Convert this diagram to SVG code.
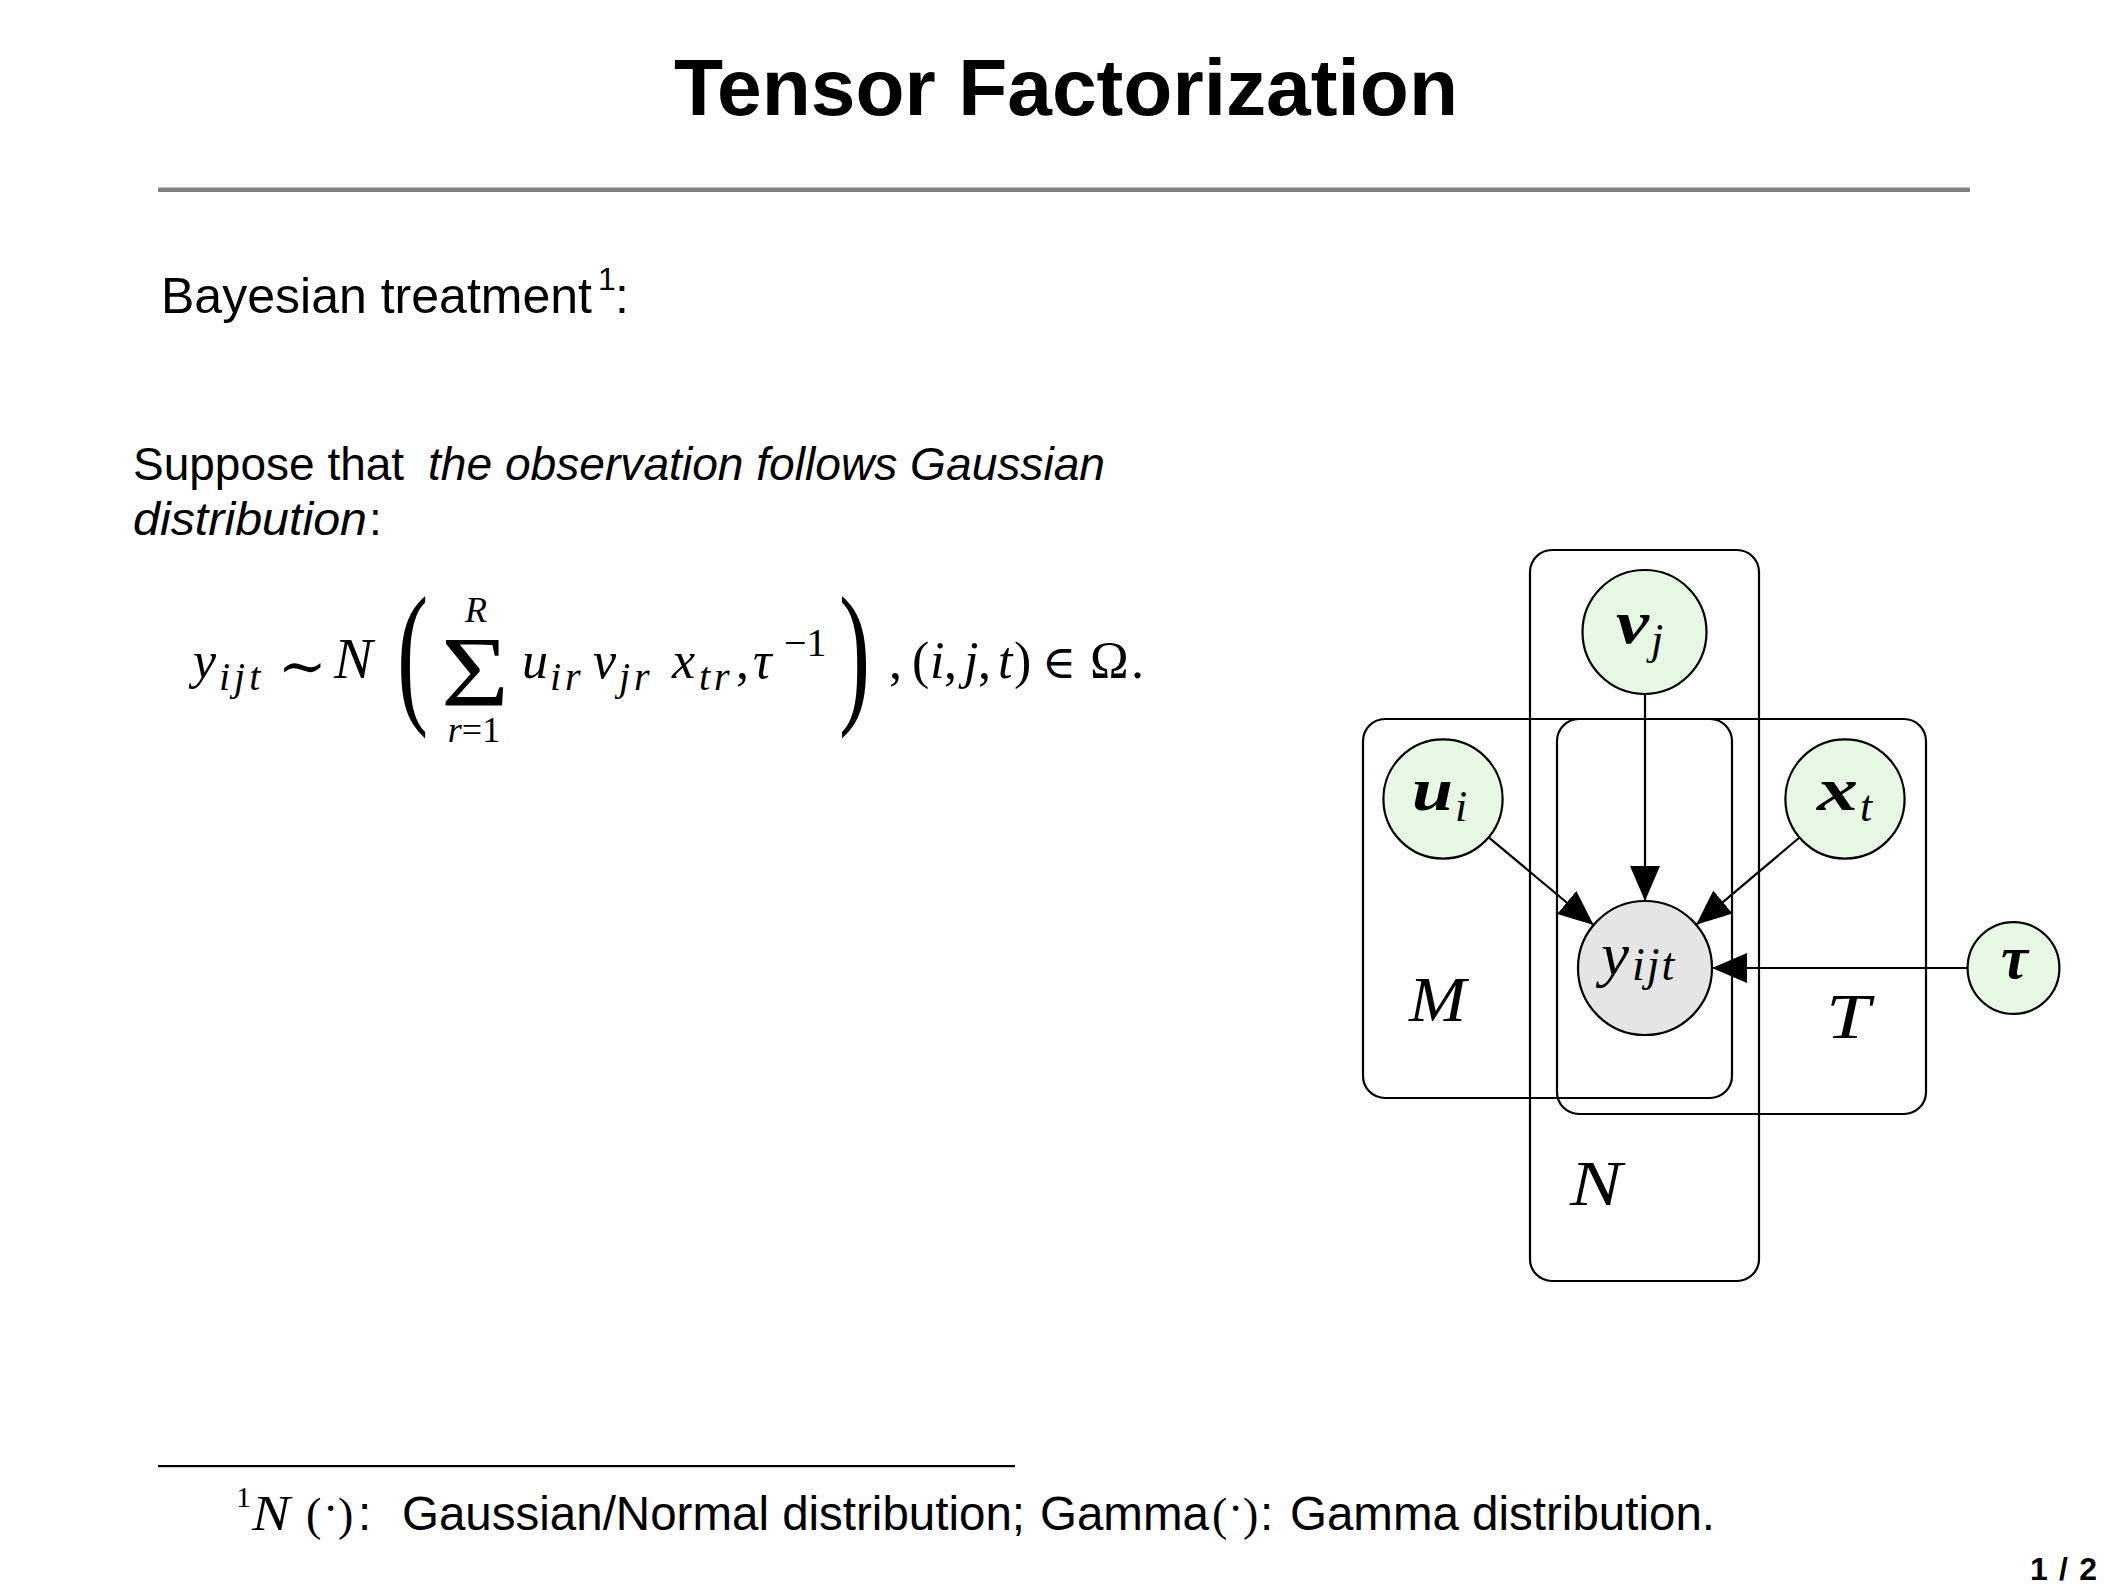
<svg xmlns="http://www.w3.org/2000/svg" width="2126" height="1590" viewBox="0 0 2126 1590">
<style>
.sans{font-family:"Liberation Sans",Arial,sans-serif;fill:#000}
.sansi{font-family:"Liberation Sans",Arial,sans-serif;font-style:italic;fill:#000}
.serif{font-family:"Liberation Serif","Times New Roman",serif;fill:#000}
.mi{font-family:"Liberation Serif","Times New Roman",serif;font-style:italic;fill:#000}
.mb{font-family:"Liberation Serif","Times New Roman",serif;font-style:italic;font-weight:bold;fill:#000}
.dv{font-family:"DejaVu Serif",serif;fill:#000}
.sub{font-family:"Liberation Serif","Times New Roman",serif;font-style:italic;fill:#000;font-size:40px;letter-spacing:4px}
.plate{fill:none;stroke:#000;stroke-width:2.2}
.lat{fill:#e7f9e5;stroke:#000;stroke-width:2.2}
.obs{fill:#e5e5e5;stroke:#000;stroke-width:2.2}
.edge{stroke:#000;stroke-width:2.2;fill:none;marker-end:url(#ah)}
</style>
<defs>
<marker id="ah" markerUnits="userSpaceOnUse" markerWidth="36" markerHeight="30" refX="35" refY="15" orient="auto">
<path d="M0,0 L35,15 L0,30 Z" fill="#000"/>
</marker>
</defs>
<rect width="2126" height="1590" fill="#fff"/>

<g id="title">
<text class="sans" x="674" y="115" font-size="80" font-weight="bold" textLength="784" lengthAdjust="spacingAndGlyphs">Tensor Factorization</text>
<rect x="158" y="187.5" width="1812" height="4.5" fill="#808080"/>
</g>

<g id="body">
<text class="sans" x="161" y="313" font-size="50" textLength="431" lengthAdjust="spacingAndGlyphs">Bayesian treatment</text>
<text class="sans" x="598" y="290" font-size="32">1</text>
<text class="sans" x="615" y="313" font-size="50">:</text>

<text class="sans" x="133" y="480" font-size="46">Suppose that</text>
<text class="sansi" x="428" y="480" font-size="46" textLength="677" lengthAdjust="spacingAndGlyphs">the observation follows Gaussian</text>
<text class="sansi" x="133" y="535" font-size="46" textLength="234" lengthAdjust="spacingAndGlyphs">distribution</text>
<text class="sans" x="369" y="535" font-size="46">:</text>
</g>

<g id="formula">
<text class="mi" x="193" y="678" font-size="52">y</text>
<text class="sub" x="219" y="690">ijt</text>
<text class="dv" x="278" y="686" font-size="58">∼</text>
<text class="mi" x="334" y="678" font-size="58">N</text>
<text class="serif" font-size="156" transform="translate(397,705) scale(0.6,1)">(</text>
<text class="serif" x="441" y="705" font-size="100" textLength="68" lengthAdjust="spacingAndGlyphs">Σ</text>
<text class="mi" x="476" y="622" font-size="36" text-anchor="middle">R</text>
<text class="serif" x="474" y="742" font-size="36" text-anchor="middle"><tspan class="mi">r</tspan>=1</text>
<text class="mi" x="522" y="678" font-size="52">u</text>
<text class="sub" x="550" y="690">ir</text>
<text class="mi" x="593" y="678" font-size="52">v</text>
<text class="sub" x="619" y="690">jr</text>
<text class="mi" x="672" y="678" font-size="52">x</text>
<text class="sub" x="699" y="690">tr</text>
<text class="serif" x="736" y="678" font-size="52">,</text>
<text class="mi" x="753" y="678" font-size="52">τ</text>
<text class="serif" x="784" y="656" font-size="40">−1</text>
<text class="serif" font-size="156" transform="translate(839,705) scale(0.6,1)">)</text>
<text class="serif" x="889" y="678" font-size="52">,</text>
<text class="serif" x="912" y="678" font-size="52">(</text>
<text class="mi" x="930" y="678" font-size="52">i</text>
<text class="serif" x="944" y="678" font-size="52">,</text>
<text class="mi" x="964" y="678" font-size="52">j</text>
<text class="serif" x="978" y="678" font-size="52">,</text>
<text class="mi" x="998" y="678" font-size="52">t</text>
<text class="serif" x="1014" y="678" font-size="52">)</text>
<text class="dv" x="1042" y="678" font-size="46">∈</text>
<text class="serif" x="1090" y="678" font-size="52">Ω</text>
<text class="serif" x="1131" y="678" font-size="52">.</text>
</g>

<g id="plate-N"><rect class="plate" x="1530" y="550" width="229" height="731" rx="22"/><text class="mi" x="1570" y="1205" font-size="63" textLength="52" lengthAdjust="spacingAndGlyphs">N</text></g>
<g id="plate-M"><rect class="plate" x="1363" y="719" width="369" height="379" rx="22"/><text class="mi" x="1409" y="1021" font-size="63" textLength="57" lengthAdjust="spacingAndGlyphs">M</text></g>
<g id="plate-T"><rect class="plate" x="1557" y="719" width="369" height="395" rx="22"/><text class="mi" x="1826" y="1038" font-size="63" textLength="44" lengthAdjust="spacingAndGlyphs">T</text></g>

<g id="connectors">
<line class="edge" x1="1645" y1="694" x2="1645" y2="901"/>
<line class="edge" x1="1488.7" y1="837.3" x2="1593.6" y2="925"/>
<line class="edge" x1="1799.5" y1="837.5" x2="1696.2" y2="924.7"/>
<line class="edge" x1="1967.5" y1="968" x2="1712" y2="968"/>
</g>

<g id="node-v"><circle class="lat" cx="1644.5" cy="632" r="62"/><text class="mb" x="1616" y="643" font-size="62" textLength="33" lengthAdjust="spacingAndGlyphs">v</text><text class="mi" x="1651" y="654" font-size="44">j</text></g>
<g id="node-u"><circle class="lat" cx="1443" cy="799" r="59.6"/><text class="mb" x="1412" y="810" font-size="62" textLength="41" lengthAdjust="spacingAndGlyphs">u</text><text class="mi" x="1455" y="821" font-size="44">i</text></g>
<g id="node-x"><circle class="lat" cx="1845" cy="799" r="59.6"/><text class="mb" x="1817" y="810" font-size="62" textLength="41" lengthAdjust="spacingAndGlyphs">x</text><text class="mi" x="1860" y="821" font-size="44">t</text></g>
<g id="node-y"><circle class="obs" cx="1645" cy="968" r="67"/><text class="mi" x="1601" y="975" font-size="62" textLength="28" lengthAdjust="spacingAndGlyphs">y</text><text class="mi" x="1632" y="980" font-size="46" letter-spacing="2">ijt</text></g>
<g id="node-tau"><circle class="lat" cx="2013.5" cy="968" r="45.9"/><text class="mb" x="2001" y="978" font-size="62" textLength="27" lengthAdjust="spacingAndGlyphs">τ</text></g>

<g id="footnote">
<rect x="158" y="1465" width="857" height="2.2" fill="#000"/>
<text class="serif" x="236" y="1507" font-size="30">1</text>
<text class="mi" x="252" y="1530" font-size="50" textLength="38" lengthAdjust="spacingAndGlyphs">N</text>
<text class="serif" x="306" y="1530" font-size="46">(</text>
<text class="serif" x="323" y="1524" font-size="46">·</text>
<text class="serif" x="338" y="1530" font-size="46">)</text>
<text class="sans" x="358" y="1530" font-size="47.5">:</text>
<text class="sans" x="402" y="1530" font-size="47.5">Gaussian/Normal distribution;</text>
<text class="sans" x="1040" y="1530" font-size="47.5">Gamma</text>
<text class="serif" x="1212" y="1530" font-size="46">(</text>
<text class="serif" x="1228" y="1524" font-size="46">·</text>
<text class="serif" x="1243" y="1530" font-size="46">)</text>
<text class="sans" x="1260" y="1530" font-size="47.5">:</text>
<text class="sans" x="1290" y="1530" font-size="47.5" textLength="425" lengthAdjust="spacing">Gamma distribution.</text>
</g>

<g id="page"><text class="sans" x="2030" y="1580" font-size="32" font-weight="bold" textLength="67" lengthAdjust="spacing">1/2</text></g>
</svg>
